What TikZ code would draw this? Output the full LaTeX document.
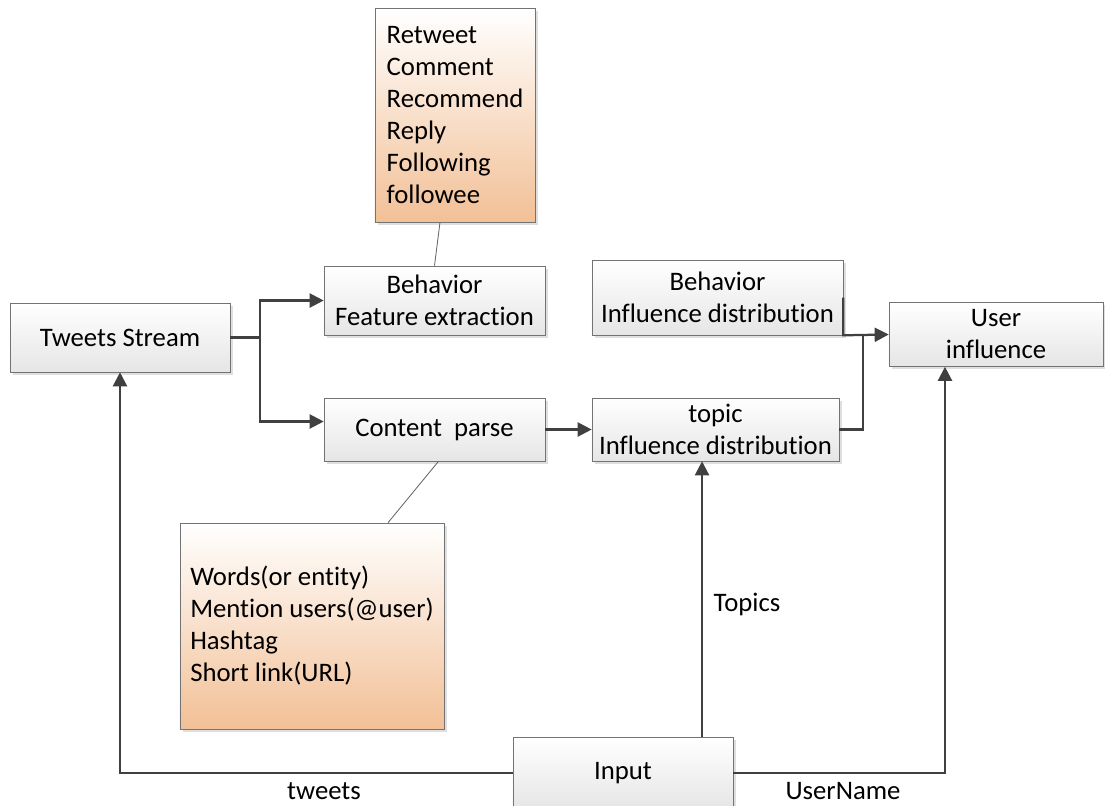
\documentclass[tikz,border=0pt]{standalone}
\usepackage{fontspec}
\setmainfont{Carlito}[Ligatures=NoCommon]
\usetikzlibrary{arrows.meta, shadows}

\definecolor{peach}{RGB}{242,192,150}
\tikzset{
  box/.style={draw=black!55, top color=white, bottom color=black!10,
    drop shadow={shadow xshift=2pt, shadow yshift=-2pt, fill=black!25},
    align=center, inner sep=2pt, font=\fontsize{19}{22.75}\selectfont},
  listbox/.style={box, bottom color=peach, align=left},
  link/.style={draw=black!75, line width=1.6pt, -{Triangle[length=10pt,width=10pt]}},
  line/.style={draw=black!75, line width=1.6pt},
  note/.style={draw=black!60, line width=0.6pt},
  lbl/.style={inner sep=0pt, font=\fontsize{19}{22.75}\selectfont}
}

\begin{document}
\begin{tikzpicture}[x=0.025cm, y=-0.025cm]
\useasboundingbox (0,0) rectangle (1105,805);

% boxes
\node[box, minimum width=5.5cm, minimum height=1.725cm] (ts) at (120,337.5) {Tweets Stream};
\node[box, minimum width=5.525cm, minimum height=1.725cm] (beh) at (434.5,300.5) {Behavior\\Feature extraction};
\node[box, minimum width=5.525cm, minimum height=1.575cm] (cp) at (434.5,429.5) {Content\ \ parse};
\node[box, minimum width=6.275cm, minimum height=1.875cm] (behinf) at (717.5,297.5) {Behavior\\Influence distribution};
\node[box, minimum width=6.175cm, minimum height=1.575cm] (topinf) at (715.5,429.5) {topic\\Influence distribution};
\node[box, minimum width=5.35cm, minimum height=1.6cm] (uinf) at (996,334.5) {User\\influence};
\node[box, minimum width=5.5cm, minimum height=1.8cm] (in) at (623,773) {Input};

% feature lists
\node[listbox, minimum width=4cm, minimum height=5.35cm] (acts) at (455,115)
  {Retweet\\Comment\\Recommend\\Reply\\Following\\followee};
\node[listbox, minimum width=6.6cm, minimum height=5.15cm] (words) at (312,626)
  {Words(or entity)\\Mention users(@user)\\Hashtag\\Short link(URL)};

\draw[note] ([xshift=-0.375cm]acts.south) -- (beh.north);
\draw[note] ([xshift=0.1cm]cp.south) -- ([xshift=1.9cm]words.north);

% flow
\coordinate (split) at (260,337.5);
\coordinate (join) at (863,335);
\draw[line] (ts.east) -- (split);
\draw[link] (split) |- (beh.west);
\draw[link] (split) |- ([yshift=0.2cm]cp.west);
\draw[link] (cp.east) -- (topinf.west);
\draw[link] (behinf.east) -- (behinf.south east) -- (uinf.west);
\draw[line] (topinf.east) -| (join);

% inputs
\draw[link] (in.west) -| (ts.south);
\draw[link] ([xshift=1.975cm]in.north) -- ([xshift=1.975cm]in.north |- topinf.south);
\draw[link] (in.east) -| ([xshift=-1.275cm]uinf.south);

\node[lbl] (ltw) at (324,791) {tweets};
\node[lbl] (ltp) at (747,604) {Topics};
\node[lbl] (lun) at (843,791) {UserName};
\end{tikzpicture}
\end{document}
